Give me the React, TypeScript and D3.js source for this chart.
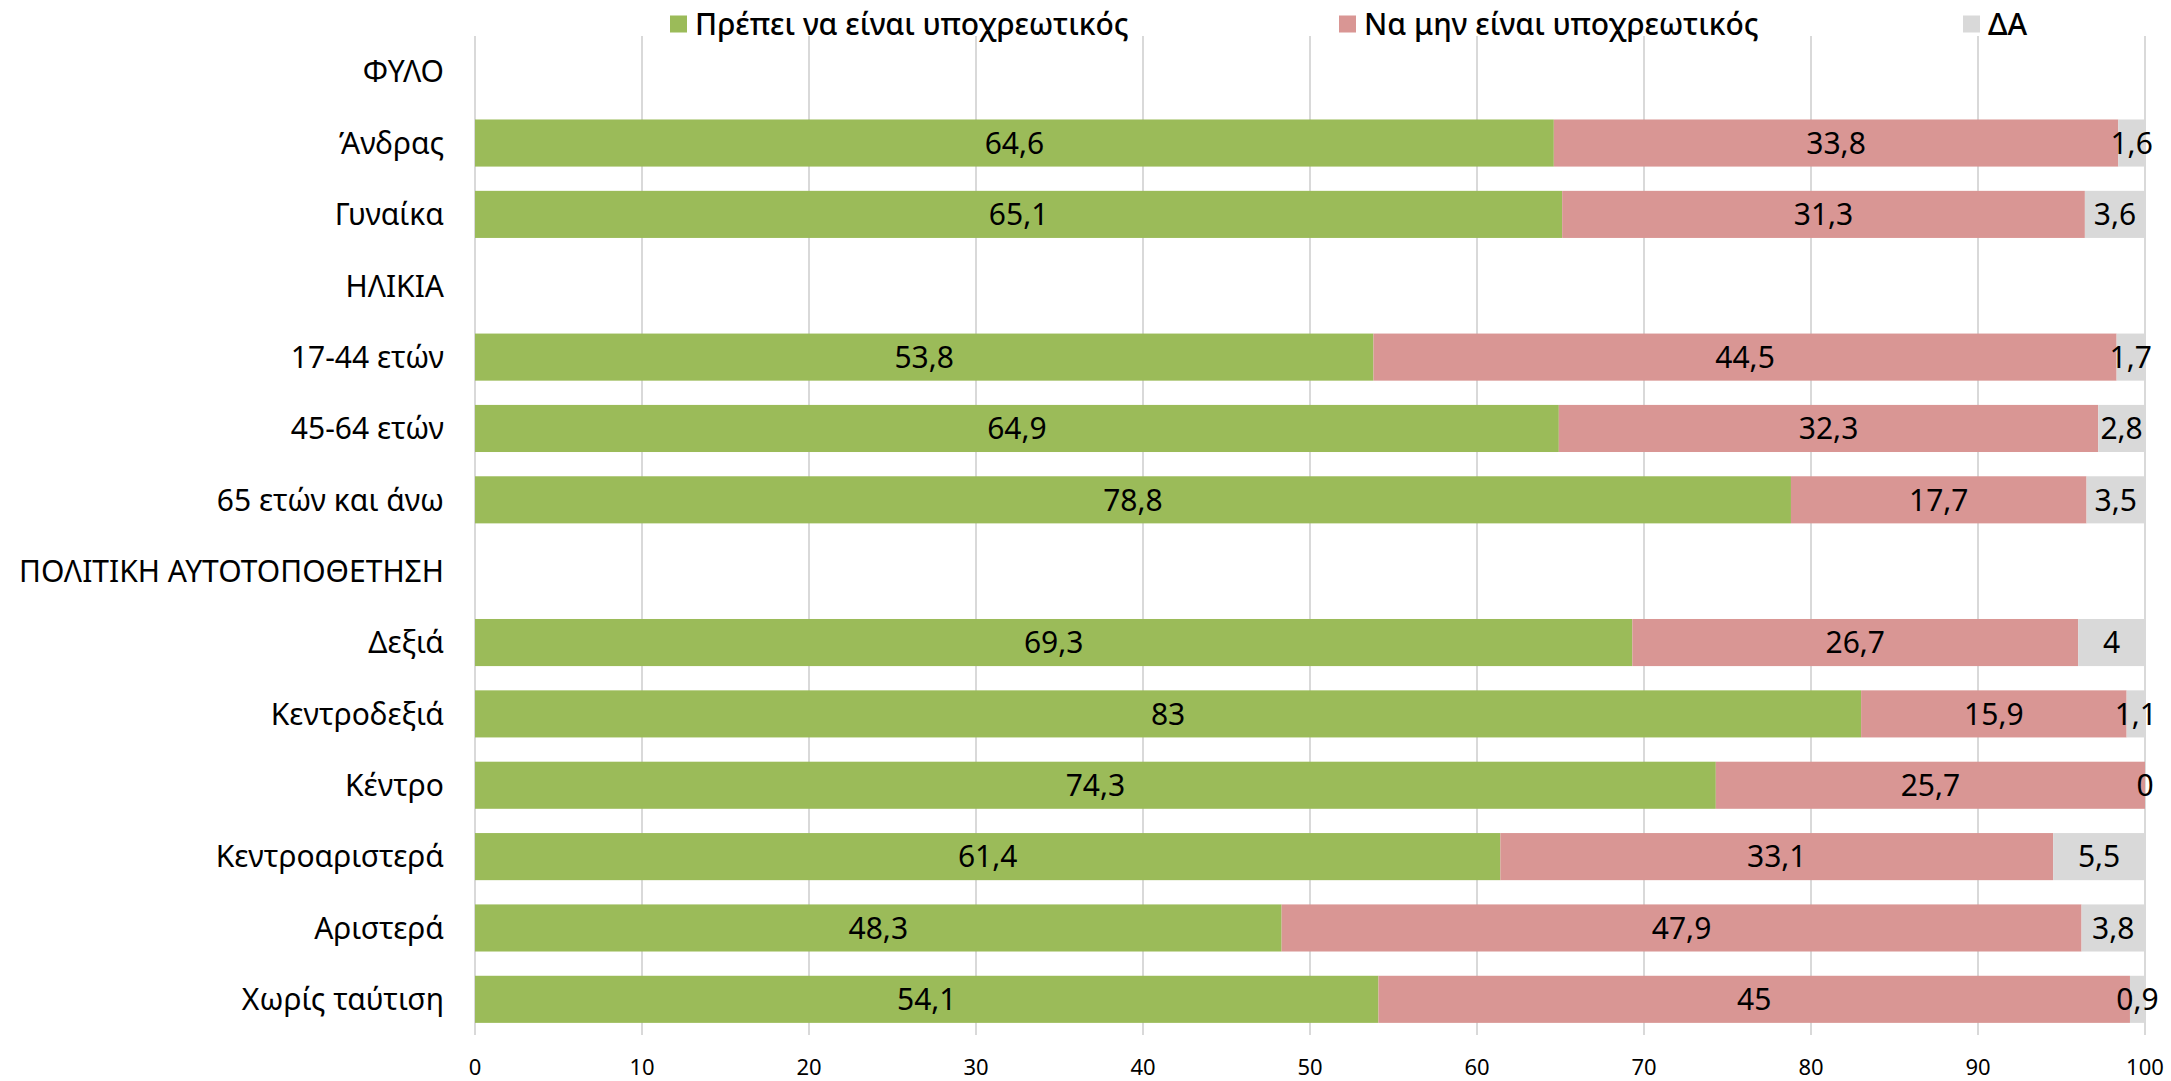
import React from "react";
import * as d3 from "d3";

const categories = [
  "ΦΥΛΟ",
  "Άνδρας",
  "Γυναίκα",
  "ΗΛΙΚΙΑ",
  "17-44 ετών",
  "45-64 ετών",
  "65 ετών και άνω",
  "ΠΟΛΙΤΙΚΗ ΑΥΤΟΤΟΠΟΘΕΤΗΣΗ",
  "Δεξιά",
  "Κεντροδεξιά",
  "Κέντρο",
  "Κεντροαριστερά",
  "Αριστερά",
  "Χωρίς ταύτιση",
];

const mustBe: (number | null)[] = [null, 64.6, 65.1, null, 53.8, 64.9, 78.8, null, 69.3, 83, 74.3, 61.4, 48.3, 54.1];
const mustNotBe: (number | null)[] = [null, 33.8, 31.3, null, 44.5, 32.3, 17.7, null, 26.7, 15.9, 25.7, 33.1, 47.9, 45];
const dontKnow: (number | null)[] = [null, 1.6, 3.6, null, 1.7, 2.8, 3.5, null, 4, 1.1, 0, 5.5, 3.8, 0.9];

const seriesNames = ["Πρέπει να είναι υποχρεωτικός", "Να μην είναι υποχρεωτικός", "ΔΑ"];
const seriesColors = ["#9BBB59", "#D99694", "#D9D9D9"];
const xTicks = [0, 10, 20, 30, 40, 50, 60, 70, 80, 90, 100];

const W = 2171;
const H = 1081;
const FONT = "'Noto Sans', 'Open Sans', sans-serif";

export default function App() {
  const x = d3.scaleLinear().domain([0, 100]).range([475, 2145]);
  const y = d3.scaleBand<string>().domain(categories).range([36, 1035]).paddingInner(0.34).paddingOuter(0.17);
  const series = [mustBe, mustNotBe, dontKnow];
  const fmt = (v: number) => String(v).replace(".", ",");

  const legendX = [670, 1339, 1963];

  return (
    <svg width={W} height={H} style={{ position: "absolute", left: 0, top: 0, background: "#fff" }} fontFamily={FONT}>
      {/* gridlines */}
      {xTicks.map((t) => (
        <line key={t} x1={x(t)} x2={x(t)} y1={36} y2={1035} stroke="#D9D9D9" strokeWidth={2} />
      ))}
      {/* bars */}
      {categories.map((c, i) => {
        let acc = 0;
        return (
          <g key={c}>
            {series.map((s, k) => {
              const v = s[i];
              if (v === null) return null;
              const x0 = acc;
              acc += v;
              return (
                <rect
                  key={k}
                  x={x(x0)}
                  y={y(c)!}
                  width={Math.max(0, x(x0 + v) - x(x0))}
                  height={y.bandwidth()}
                  fill={seriesColors[k]}
                />
              );
            })}
          </g>
        );
      })}
      {/* value labels */}
      {categories.map((c, i) => {
        let acc = 0;
        return (
          <g key={"l" + c}>
            {series.map((s, k) => {
              const v = s[i];
              if (v === null) return null;
              const x0 = acc;
              acc += v;
              return (
                <text
                  key={k}
                  x={x(x0 + v / 2)}
                  y={y(c)! + y.bandwidth() / 2}
                  dy="0.36em"
                  textAnchor="middle"
                  fontSize={30}
                  fill="#000"
                >
                  {fmt(v)}
                </text>
              );
            })}
          </g>
        );
      })}
      {/* category labels */}
      {categories.map((c) => (
        <text key={"c" + c} x={444} y={y(c)! + y.bandwidth() / 2} dy="0.36em" textAnchor="end" fontSize={30} fill="#000">
          {c}
        </text>
      ))}
      {/* x axis labels */}
      {xTicks.map((t) => (
        <text key={"t" + t} x={x(t)} y={1067} dy="0.36em" textAnchor="middle" fontSize={22} fill="#000">
          {t}
        </text>
      ))}
      {/* legend */}
      {seriesNames.map((n, k) => (
        <g key={n} transform={`translate(${legendX[k]},24)`}>
          <rect x={0} y={-8.5} width={17} height={17} fill={seriesColors[k]} />
          <text x={25} y={0} dy="0.36em" fontSize={30} fontWeight={500} fill="#000">
            {n}
          </text>
        </g>
      ))}
    </svg>
  );
}
